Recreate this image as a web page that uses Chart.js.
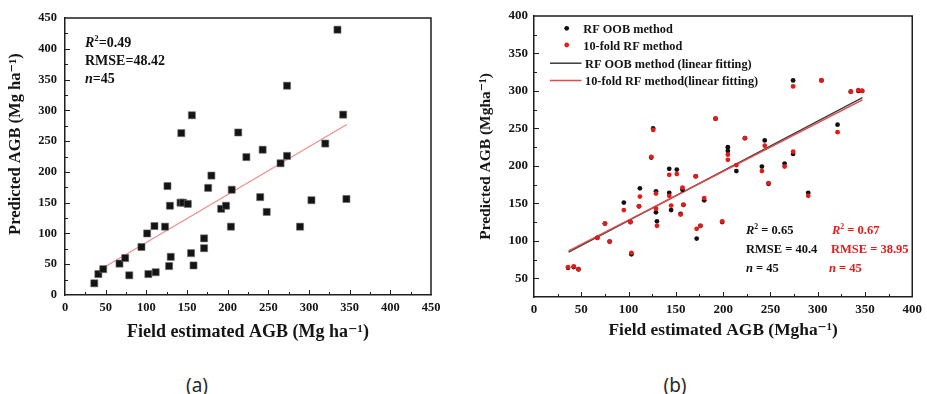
<!DOCTYPE html>
<html>
<head>
<meta charset="utf-8">
<script src="https://cdn.jsdelivr.net/npm/chart.js@4.4.0/dist/chart.umd.min.js"></script>
<style>
html,body{margin:0;padding:0;background:#fff;}
#wrap{position:relative;width:927px;height:394px;overflow:hidden;background:#fff;}
canvas{position:absolute;top:0;}
#ca{left:0;}
#cb{left:463px;}
.cap{position:absolute;top:375px;line-height:20px;font-family:"Noto Sans",sans-serif;font-size:19px;color:#2a2a2a;transform:translateX(-50%);}
</style>
</head>
<body>
<div id="wrap">
<canvas id="ca" width="463" height="360"></canvas>
<canvas id="cb" width="464" height="360"></canvas>
<div class="cap" style="left:197px">(a)</div>
<div class="cap" style="left:675px">(b)</div>
</div>
<script>
// ---------- Panel (a) data ----------
const fieldA = [36,41,47,67,74,79,94,101,102.5,110,111.5,123,126,129,128,130,142,145,151,155,158,171,171,176,180,192,198,205,204,223,240,156,143,213,335,273,342,243,273,320,265,248,303,346,289];
const predA  = [19,34,42,51,60,32,78,100,34,112,37,111,177,145,47,62,150,150,148,68,48,92,76,174,194,140,145,171,111,224,159,292,263,264,431,340,293,236,226,246,214,135,154,156,111];
const fitAX = [37.7, 346.5];
const fitAY = [37, 277];
const xTicksA = [0,50,100,150,200,250,300,350,400,450];
const yTicksA = [0,50,100,150,200,250,300,350,400,450];

// ---------- Panel (b) data ----------
const fieldB = [36,42,47,67,75,80,95,102,103,112,111,124,129,129,130,143,143,151,145,155,157,158,171,172,176,180,126,192,274,304,335,343,347,321,223,244,274,205,205,214,241,248,265,290,199];
const oobB   = [64,65,62,104,123,99,151,125,82,170,146,211,166,138,126,196,164,195,141,136,168,148,186,103,120,154,250,263,314,314,299,300,300,255,237,234,216,225,220,193,199,176,203,164,125];
const cvB    = [65,66,62,104,123,99,141,125,84,159,146,212,163,143,120,188,160,189,147,135,171,148,186,116,120,157,248,263,306,314,299,301,300,245,237,227,219,215,208,201,193,177,199,160,126];
const fitBX   = [36.6, 347.3];
const fitOOBY = [85, 291];
const fitCVY  = [86.5, 288];
const xTicksB = [0,50,100,150,200,250,300,350,400];
const yTicksB = [50,100,150,200,250,300,350,400];
const seriesNamesB = ['RF OOB method','10-fold RF method','RF OOB method (linear fitting)','10-fold RF method(linear fitting)'];

const SERIF = '"Liberation Serif","Times New Roman","DejaVu Serif",serif';
const pts = (xs, ys) => xs.map((v, i) => ({x: v, y: ys[i]}));

function drawRich(ctx, segs, x, y, size, color) {
  let cx = x;
  ctx.fillStyle = color;
  ctx.textBaseline = 'alphabetic';
  ctx.textAlign = 'left';
  for (const s of segs) {
    const fs = s.sup ? size * 0.62 : size;
    ctx.font = (s.it ? 'italic ' : '') + 'bold ' + fs + 'px ' + SERIF;
    const dy = s.sup ? -size * 0.4 : 0;
    ctx.fillText(s.t, cx, y + dy);
    cx += ctx.measureText(s.t).width;
  }
}

const frameTicks = {
  id: 'frameTicks',
  beforeDatasetsDraw(chart, args, o) {
    const {ctx, chartArea: {left, top, right, bottom}, scales: {x, y}} = chart;
    ctx.save();
    ctx.strokeStyle = o.color;
    ctx.lineWidth = o.width;
    ctx.beginPath();
    ctx.moveTo(left, top); ctx.lineTo(right, top); ctx.lineTo(right, bottom);
    ctx.stroke();
    ctx.lineWidth = 1;
    for (const sc of [x, y]) {
      const start = Math.ceil(sc.min / o.minor) * o.minor;
      for (let v = start; v <= sc.max + 1e-9; v += o.minor) {
        if (v === sc.min || v === sc.max) continue;
        const len = (v % o.major === 0) ? o.majorLen : o.minorLen;
        const p = Math.round(sc.getPixelForValue(v)) + 0.5;
        ctx.beginPath();
        if (sc === x) { ctx.moveTo(p, bottom); ctx.lineTo(p, bottom - len); }
        else { ctx.moveTo(left, p); ctx.lineTo(left + len, p); }
        ctx.stroke();
      }
    }
    ctx.restore();
  }
};

const richText = {
  id: 'richText',
  afterDraw(chart, args, o) {
    const {ctx, chartArea} = chart;
    ctx.save();
    for (const it of (o.items || [])) {
      drawRich(ctx, it.segs, chartArea.left + it.dx, chartArea.top + it.dy, it.size, it.color);
    }
    ctx.restore();
  }
};

const legendB = {
  id: 'legendB',
  afterDraw(chart, args, o) {
    if (!o.rows) return;
    const {ctx, chartArea: {left, top}} = chart;
    ctx.save();
    chart.data.datasets.forEach((ds, i) => {
      const my = top + o.rows[i];
      if (ds.showLine) {
        ctx.strokeStyle = ds.borderColor; ctx.lineWidth = 1.5;
        ctx.beginPath(); ctx.moveTo(left + o.lineX0, my + 0.5); ctx.lineTo(left + o.lineX1, my + 0.5); ctx.stroke();
      } else {
        ctx.fillStyle = ds.backgroundColor;
        ctx.beginPath(); ctx.arc(left + o.dotX, my, ds.pointRadius, 0, Math.PI * 2); ctx.fill();
      }
      ctx.fillStyle = '#141414';
      ctx.font = 'bold ' + o.size + 'px ' + SERIF;
      ctx.textBaseline = 'alphabetic';
      ctx.textAlign = 'left';
      ctx.fillText(ds.label, left + (ds.showLine ? o.textX2 : o.textX1), my + 5);
    });
    ctx.restore();
  }
};

function axis(min, max, tickVals, fitSize, isX, tickSize, tickPad, title, titleSize, titlePad) {
  return {
    type: 'linear', min: min, max: max,
    afterBuildTicks: s => { s.ticks = tickVals.map(v => ({value: v})); },
    afterFit: s => { if (isX) s.height = fitSize; else s.width = fitSize; },
    grid: {display: false, drawTicks: false},
    border: {display: true, color: '#1e1e1e', width: 1.5},
    ticks: {padding: tickPad, color: '#151515', autoSkip: false, maxRotation: 0,
      font: {family: SERIF, size: tickSize, weight: 'bold'}},
    title: {display: true, text: title, color: '#151515',
      font: {family: SERIF, size: titleSize, weight: 'bold'}, padding: titlePad}
  };
}

// ---------- Chart (a) ----------
new Chart(document.getElementById('ca'), {
  type: 'scatter',
  data: {
    datasets: [
      {label: 'Field vs predicted', data: pts(fieldA, predA), pointStyle: 'rect', pointRadius: 5, pointHoverRadius: 5,
       backgroundColor: '#141414', borderColor: '#6a6a6a', borderWidth: 0.6, order: 0},
      {label: 'Linear fit', data: pts(fitAX, fitAY), showLine: true, pointRadius: 0, pointHoverRadius: 0,
       borderColor: '#f08a8a', borderWidth: 1.1, order: 1}
    ]
  },
  options: {
    responsive: false, animation: false, devicePixelRatio: 1,
    layout: {padding: {left: 0, top: 18, right: 32, bottom: 0}},
    plugins: {
      legend: {display: false}, tooltip: {enabled: false},
      frameTicks: {color: '#1e1e1e', width: 1.5, minor: 25, major: 50, majorLen: 5, minorLen: 3},
      richText: {items: [
        {dx: 20, dy: 29, size: 14, color: '#111', segs: [{t: 'R', it: true}, {t: '2', sup: true}, {t: '=0.49'}]},
        {dx: 20, dy: 47, size: 14, color: '#111', segs: [{t: 'RMSE=48.42'}]},
        {dx: 20, dy: 65, size: 14, color: '#111', segs: [{t: 'n', it: true}, {t: '=45'}]}
      ]}
    },
    scales: {
      x: axis(0, 450, xTicksA, 65, true, 12.5, 5, 'Field estimated AGB (Mg ha\u207B\u00B9)', 18, {top: 0, bottom: 17}),
      y: axis(0, 450, yTicksA, 65, false, 12.5, 8, '\u00A0\u00A0\u00A0\u00A0\u00A0\u00A0Predicted AGB (Mg ha\u207B\u00B9)', 16.5, {top: 6, bottom: 0})
    }
  },
  plugins: [frameTicks, richText]
});

// ---------- Chart (b) ----------
new Chart(document.getElementById('cb'), {
  type: 'scatter',
  data: {
    datasets: [
      {label: seriesNamesB[0], data: pts(fieldB, oobB), pointRadius: 2.4, pointHoverRadius: 2.4,
       backgroundColor: '#111111', borderWidth: 0, order: 1},
      {label: seriesNamesB[1], data: pts(fieldB, cvB), pointRadius: 2.4, pointHoverRadius: 2.4,
       backgroundColor: '#e51b1b', borderWidth: 0, order: 0},
      {label: seriesNamesB[2], data: pts(fitBX, fitOOBY), showLine: true, pointRadius: 0, pointHoverRadius: 0,
       borderColor: '#3c3c3c', borderWidth: 1.4, order: 3},
      {label: seriesNamesB[3], data: pts(fitBX, fitCVY), showLine: true, pointRadius: 0, pointHoverRadius: 0,
       borderColor: '#e04a4a', borderWidth: 1.4, order: 2}
    ]
  },
  options: {
    responsive: false, animation: false, devicePixelRatio: 1,
    layout: {padding: {left: 0, top: 16, right: 11, bottom: 0}},
    plugins: {
      legend: {display: false}, tooltip: {enabled: false},
      frameTicks: {color: '#1e1e1e', width: 1.5, minor: 25, major: 50, majorLen: 5, minorLen: 3},
      legendB: {rows: [12.3, 29, 46.7, 64], dotX: 32.7, lineX0: 16, lineX1: 47.5, textX1: 49.3, textX2: 51, size: 12.3},
      richText: {items: [
        {dx: 212, dy: 218, size: 12.5, color: '#111', segs: [{t: 'R', it: true}, {t: '2', sup: true}, {t: ' = 0.65'}]},
        {dx: 212, dy: 237, size: 12.5, color: '#111', segs: [{t: 'RMSE = 40.4'}]},
        {dx: 212, dy: 256, size: 12.5, color: '#111', segs: [{t: 'n', it: true}, {t: ' = 45'}]},
        {dx: 298, dy: 218, size: 12.5, color: '#e51b1b', segs: [{t: 'R', it: true}, {t: '2', sup: true}, {t: ' = 0.67'}]},
        {dx: 297, dy: 237, size: 12.5, color: '#e51b1b', segs: [{t: 'RMSE = 38.95'}]},
        {dx: 295, dy: 256, size: 12.5, color: '#e51b1b', segs: [{t: 'n', it: true}, {t: ' = 45'}]}
      ]}
    },
    scales: {
      x: axis(0, 400, xTicksB, 63, true, 13, 5, 'Field estimated AGB (Mgha\u207B\u00B9)', 17.4, {top: 0, bottom: 19}),
      y: axis(25, 400, yTicksB, 71, false, 13, 6, 'Predicted AGB (Mgha\u207B\u00B9)', 15.5, {top: 14, bottom: 0})
    }
  },
  plugins: [frameTicks, legendB, richText]
});
</script>
</body>
</html>
